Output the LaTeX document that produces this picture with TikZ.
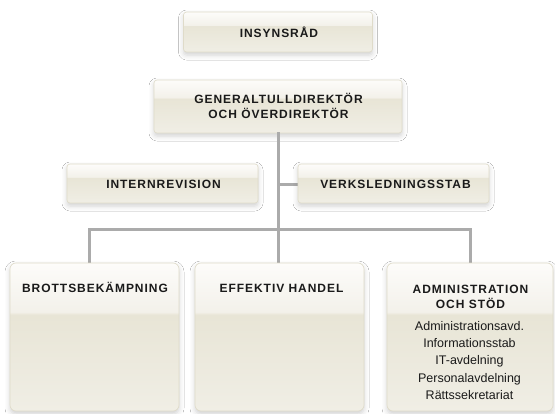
\documentclass[tikz,border=0pt]{standalone}
\usepackage{fontspec}
\setmainfont{Liberation Sans}
\newfontfamily\capsfont{Liberation Sans}[LetterSpace=8]
\usetikzlibrary{shadows.blur}
\definecolor{gT}{HTML}{FDFCFA}
\definecolor{gS}{HTML}{F3F1EA}
\definecolor{gM}{HTML}{E8E5D6}
\definecolor{gB}{HTML}{F0EEE5}
\definecolor{boxline}{HTML}{DFDBC9}
\definecolor{conncol}{HTML}{ABABAB}
\definecolor{txt}{HTML}{1A1A1A}
\pgfdeclareverticalshading{glossy}{100bp}{color(0bp)=(gB); color(25bp)=(gB); color(57.5bp)=(gM); color(58.5bp)=(gS); color(75bp)=(gT); color(100bp)=(gT)}
\begin{document}
\begin{tikzpicture}[x=1pt,y=-1pt,
  box/.style={draw=boxline, line width=0.6pt, rounded corners=3pt, shade, shading=glossy,
    blur shadow={shadow xshift=0pt, shadow yshift=-3pt, shadow blur radius=5pt, shadow opacity=18},
    inner sep=0pt, anchor=center},
  bigbox/.style={box, rounded corners=6pt, minimum width=169pt, minimum height=148pt},
  smallbox/.style={box, minimum width=191pt, minimum height=39pt},
  captxt/.style={font=\capsfont\bfseries\fontsize{12}{15}\selectfont, text=txt, inner sep=0pt, anchor=base},
  subtxt/.style={font=\fontsize{12.5}{17.4}\selectfont, text=txt, inner sep=0pt, anchor=base},
  conn/.style={draw=conncol, line width=3pt, line cap=rect, line join=miter}]
\useasboundingbox[fill=white] (0,0) rectangle (555,413);

% boxes
\node[box, minimum width=189pt, minimum height=40pt] (ins) at (278,32) {};
\node[box, minimum width=248pt, minimum height=53pt] (gen) at (278,106.5) {};
\coordinate (busL) at (89,229);
\coordinate (busR) at (470,229);

% connectors (behind boxes)
\draw[conn] (gen.south) -- (278,263);
\draw[conn] (busL |- 0,263) -- (busL) -- (busR) -- (busR |- 0,263);
\draw[conn] (gen.south |- 0,184) -- (298,184);

\node[smallbox] (int) at (162.5,183.5) {};
\node[smallbox] (verk) at (393.5,183.5) {};
\node[bigbox] (brott) at (94.5,337) {};
\node[bigbox] (eff) at (279.5,337) {};
\node[bigbox, minimum width=166pt] (adm) at (470,337) {};

% labels
\node[captxt] (tins) at (279,37.7) {INSYNSRÅD};
\node[captxt] (tgen1) at (278.5,103.3) {GENERALTULLDIREKTÖR};
\node[captxt] (tgen2) at (278.5,118.3) {OCH ÖVERDIREKTÖR};
\node[captxt] (tint) at (163.5,188.5) {INTERNREVISION};
\node[captxt] (tverk) at (395.5,188.5) {VERKSLEDNINGSSTAB};
\node[captxt] (tbrott) at (95,292) {BROTTSBEKÄMPNING};
\node[captxt] (teff) at (281.5,292) {EFFEKTIV HANDEL};
\node[captxt] (tadm1) at (470.5,293) {ADMINISTRATION};
\node[captxt] (tadm2) at (470.5,308) {OCH STÖD};
\node[subtxt] (s1) at (469.5,330) {Administrationsavd.};
\node[subtxt] (s2) at (469.5,347.4) {Informationsstab};
\node[subtxt] (s3) at (469.5,364.8) {IT-avdelning};
\node[subtxt] (s4) at (469.5,382.2) {Personalavdelning};
\node[subtxt] (s5) at (469.5,399.6) {Rättssekretariat};
\end{tikzpicture}
\end{document}
